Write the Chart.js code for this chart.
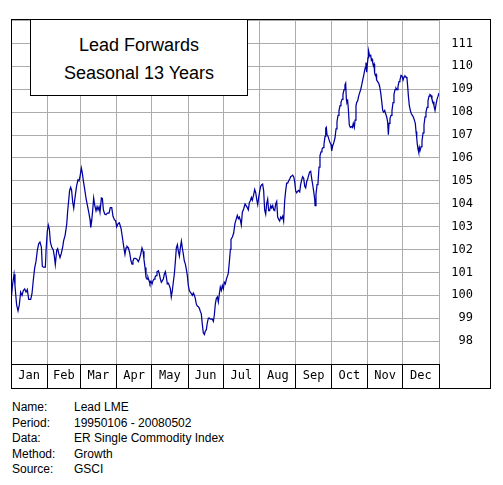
<!DOCTYPE html>
<html><head><meta charset="utf-8">
<script src="https://cdn.jsdelivr.net/npm/chart.js@4.4.1/dist/chart.umd.min.js"></script>
<style>
html,body{margin:0;padding:0;background:#fff;}
#wrap{position:relative;width:503px;height:485px;overflow:hidden;background:#fff;}
#c{position:absolute;left:0;top:0;}
#title{position:absolute;left:30px;top:19px;width:218px;height:77px;box-sizing:border-box;border:1px solid #000;background:#fff;font-family:"Liberation Sans",Arial,sans-serif;font-size:18px;color:#000;text-align:center;}
#title div{position:absolute;left:0;right:0;height:28px;line-height:28px;white-space:nowrap;}
.info{position:absolute;top:400px;font-family:"Liberation Sans",Arial,sans-serif;font-size:12px;line-height:15.5px;color:#000;white-space:nowrap;}
</style></head>
<body>
<div id="wrap">
<canvas id="c" width="503" height="392"></canvas>
<div id="title"><div style="top:11px">Lead Forwards</div><div style="top:39px">Seasonal 13 Years</div></div>
<div class="info" style="left:12px">Name:<br>Period:<br>Data:<br>Method:<br>Source:</div>
<div class="info" style="left:74px">Lead LME<br>19950106 - 20080502<br>ER Single Commodity Index<br>Growth<br>GSCI</div>
</div>
<script>
// ---- data ----
const monthNames = ['Jan','Feb','Mar','Apr','May','Jun','Jul','Aug','Sep','Oct','Nov','Dec'];
const monthDays = [31,28,31,30,31,30,31,31,30,31,30,31];
const yLabelMin = 98, yLabelMax = 111;
const days = [
0,0.6,1.4,2.6,3.4,4.8,6.0,7.1,8.2,9.4,10.5,11.7,12.8,13.9,15.1,16.8,17.9,19.1,20.2,21.3,22.5,23.6,24.7,25.9,26.7,27.6,29.3,29.9,31.0,31.8,32.7,33.6,34.7,36.1,37.0,37.8,39.0,39.8,40.7,41.8,42.9,44.1,44.9,46.1,47.5,48.3,49.2,50.0,50.9,51.7,52.6,53.5,54.3,55.2,56.0,57.1,58.0,58.9,60.0,60.8,61.7,62.8,64.0,65.1,66.2,67.4,68.0,68.8,69.7,70.5,71.4,72.5,73.4,74.2,75.1,75.9,77.1,77.9,78.8,79.9,81.0,82.2,83.6,84.7,85.9,87.0,88.1,89.3,90.1,91.3,92.4,
93.8,94.9,96.1,97.2,98.1,98.9,100.1,101.2,102.3,103.2,104.0,104.9,106.3,107.5,108.6,109.4,110.6,111.7,112.6,113.4,114.3,115.1,116.0,116.8,117.7,118.5,119.4,120.3,121.1,122.0,122.8,123.7,124.5,125.7,126.5,127.4,128.2,129.1,129.9,130.8,131.6,132.5,133.3,134.2,135.0,135.9,136.7,137.6,138.4,139.3,140.2,141.0,141.9,142.7,143.6,144.4,145.3,146.1,147.0,147.8,148.7,149.5,150.4,151.2,152.1,152.9,153.8,154.7,155.5,156.4,157.2,158.1,158.9,159.8,160.6,161.5,162.3,163.2,164.0,164.9,165.7,166.6,167.4,168.3,169.2,170.0,170.9,171.7,172.6,173.4,174.3,175.1,176.0,176.8,177.7,178.5,179.4,180.2,181.1,181.9,182.8,183.7,
185.3,186.2,187.1,187.6,188.8,189.9,191.0,192.2,193.0,193.9,194.7,195.6,196.4,197.3,198.4,199.6,200.4,201.3,202.4,203.3,204.1,205.0,205.8,207.0,207.8,208.7,209.5,210.4,211.2,212.1,212.9,213.8,214.6,215.5,216.3,217.2,218.0,218.9,219.7,220.6,221.5,222.3,223.2,224.0,224.9,225.7,226.6,227.4,228.3,229.1,230.0,230.8,231.7,232.5,233.4,234.2,235.1,236.0,236.8,237.7,238.5,239.4,240.2,241.1,241.9,242.8,243.6,244.5,245.3,246.2,247.0,247.9,248.7,249.6,250.5,251.3,252.2,253.0,253.9,254.7,255.6,256.4,257.3,258.1,259.0,259.3,260.1,261.0,261.8,262.7,263.5,264.4,265.2,266.1,266.9,267.8,268.4,268.9,269.5,270.4,271.2,272.1,272.9,273.5,274.3,275.2,276.3,
277.2,278.0,278.9,279.7,280.6,281.4,282.3,283.1,284.0,284.8,285.4,286.0,286.5,287.1,287.7,288.5,289.4,290.2,291.1,291.9,292.8,293.4,294.2,294.8,295.6,296.5,297.3,298.2,299.1,299.9,300.8,301.6,302.2,302.7,303.3,303.9,304.5,305.0,305.6,306.2,306.7,307.3,307.9,308.4,309.0,309.6,310.1,310.7,311.3,311.8,312.7,313.6,314.4,315.3,316.1,317.0,317.8,318.7,319.5,320.4,321.2,321.8,322.4,323.2,324.1,324.9,325.8,326.6,327.5,328.3,329.2,330.0,330.9,331.7,332.6,333.5,334.3,335.2,336.0,336.9,337.7,338.3,338.9,339.7,340.6,341.4,342.3,343.1,344.0,344.8,345.4,346.0,346.5,347.1,347.7,348.2,348.8,349.7,350.5,351.4,352.2,353.1,353.9,354.8,355.6,356.5,357.3,358.2,359.0,359.9,360.7,361.6,362.5,363.3,364.2,365.0
];
const values = [
100.1,100.07,100.49,100.92,100.42,99.58,99.32,99.58,100.14,100.0,100.21,100.28,100.14,100.25,99.82,99.82,100.07,100.70,101.20,101.48,101.97,102.25,102.32,102.11,101.27,101.23,101.23,101.97,102.82,103.07,102.89,102.32,102.11,101.97,101.69,101.34,101.97,102.04,101.83,101.65,101.83,102.11,102.39,102.61,103.10,103.66,104.15,104.58,104.72,104.58,104.08,103.80,104.15,104.51,104.79,105.04,105.0,105.21,105.56,105.35,105.0,104.65,104.23,103.94,103.66,103.31,102.96,103.24,103.73,104.25,103.94,103.69,103.87,103.73,103.87,103.63,104.25,104.23,103.73,103.55,103.52,103.59,103.59,103.83,103.83,103.45,103.31,103.24,102.99,103.13,103.17,
102.93,102.57,102.14,101.79,102.07,102.14,102.07,101.86,101.5,101.36,101.5,101.61,101.61,101.57,101.47,101.57,101.79,102.07,101.93,101.57,101.21,100.79,100.71,100.79,100.64,100.5,100.61,100.5,100.64,100.71,100.79,100.86,101.03,101.07,100.93,100.71,100.57,100.64,100.71,100.93,101.03,100.79,100.5,100.53,100.43,100.29,99.93,100.21,100.57,100.93,101.5,102.07,102.21,101.93,101.71,102.07,102.36,102.07,101.79,101.5,101.36,101.14,100.86,100.43,100.21,100.14,100.07,100.0,100.1,100.0,99.86,99.61,99.53,99.5,99.43,99.29,99.19,98.71,98.36,98.29,98.43,98.5,98.79,99.0,99.0,98.96,98.97,98.96,98.86,99.14,99.64,99.86,99.93,99.71,100.07,100.36,100.21,100.43,100.29,100.57,100.5,100.71,
100.96,101.45,102.01,102.44,102.55,102.72,103.14,103.35,103.49,103.35,103.42,103.28,103.07,103.63,103.77,103.99,103.99,103.85,103.73,104.06,104.13,104.27,104.15,104.41,104.62,104.48,104.2,103.96,104.27,104.55,104.76,104.83,104.86,104.55,103.73,103.54,103.99,104.2,103.7,103.7,103.92,103.82,103.92,103.73,103.7,103.99,104.1,103.42,103.31,103.25,103.42,103.35,103.45,103.24,104.13,104.55,104.9,104.9,105.0,105.08,105.18,105.21,105.25,105.18,104.97,104.55,104.48,104.55,104.58,104.52,104.83,105.04,105.18,105.11,104.76,104.69,104.97,105.08,105.25,105.39,105.42,105.11,104.83,104.55,104.2,103.92,104.41,104.83,104.9,105.6,106.1,106.27,106.38,106.45,106.59,106.94,107.3,107.34,107.01,106.94,106.8,106.66,106.59,106.31,106.52,106.66,106.87,
107.27,107.58,107.86,108.07,108.28,108.42,108.56,108.77,108.98,109.19,109.26,108.56,108.42,108.49,108.14,107.44,107.33,107.37,107.33,107.51,107.33,107.65,108.28,108.42,108.49,108.7,108.84,108.98,109.19,109.4,109.61,109.82,109.96,110.17,109.75,110.1,110.38,110.66,110.52,110.45,110.52,110.27,110.31,110.17,110.03,110.1,109.71,109.61,109.65,109.4,109.33,109.26,109.12,108.84,108.49,108.07,108.0,108.07,107.93,107.79,107.58,107.02,107.51,107.72,107.86,108.07,108.42,108.77,108.98,109.05,108.98,109.12,109.33,109.4,109.61,109.57,109.4,109.54,109.58,109.54,109.47,109.12,108.7,108.28,108.07,107.93,107.86,107.79,107.65,107.51,107.16,106.88,106.6,106.39,106.25,106.46,106.32,106.49,106.74,107.09,107.44,107.79,108.0,108.21,108.49,108.7,108.77,108.73,108.56,108.45,108.28,108.07,108.35,108.56,108.7,108.84
];

// ---- derived tick positions ----
const boundaries = [0];
monthDays.forEach(d => boundaries.push(boundaries[boundaries.length-1] + d));
const tickVals = [], tickLabels = [], tickIsBoundary = [];
for (let i = 0; i < 12; i++) {
  tickVals.push(boundaries[i]); tickLabels.push(''); tickIsBoundary.push(true);
  tickVals.push(boundaries[i] + monthDays[i]/2); tickLabels.push(monthNames[i]); tickIsBoundary.push(false);
}
tickVals.push(boundaries[12]); tickLabels.push(''); tickIsBoundary.push(true);

const GRID = '#acacac';
const FRAME_RIGHT = 490;

const framePlugin = {
  id: 'frame',
  afterDraw(chart) {
    const ctx = chart.ctx, a = chart.chartArea, xs = chart.scales.x;
    const al = p => Math.round(p - 0.5) + 0.5;
    ctx.save();
    ctx.strokeStyle = '#000';
    ctx.lineWidth = 1;
    ctx.beginPath();
    ctx.moveTo(a.left, al(a.bottom)); ctx.lineTo(a.right + 1, al(a.bottom));
    for (let i = 1; i < boundaries.length; i++) {
      const px = al(xs.getPixelForValue(boundaries[i]));
      ctx.moveTo(px, a.bottom); ctx.lineTo(px, xs.bottom);
    }
    ctx.stroke();
    ctx.strokeRect(al(a.left), al(a.top), FRAME_RIGHT - Math.floor(a.left), Math.round(xs.bottom) - Math.floor(a.top));
    ctx.restore();
  }
};

new Chart(document.getElementById('c'), {
  type: 'line',
  data: {
    datasets: [{
      data: days.map((d, i) => ({x: d, y: values[i]})),
      borderColor: '#0000a0',
      borderWidth: 1.25,
      pointRadius: 0,
      tension: 0,
      fill: false
    }]
  },
  options: {
    responsive: false,
    animation: false,
    devicePixelRatio: 1,
    events: [],
    layout: {padding: {left: 11, top: 9, right: 30, bottom: 4}},
    plugins: {legend: {display: false}, tooltip: {enabled: false}, title: {display: false}},
    scales: {
      x: {
        type: 'linear', position: 'bottom', min: 0, max: 365,
        afterBuildTicks: s => { s.ticks = tickVals.map(v => ({value: v})); },
        afterFit: s => { s.height = 24; },
        grid: {
          color: c => (c.index !== undefined && tickIsBoundary[c.index]) ? GRID : 'rgba(0,0,0,0)',
          drawTicks: false, lineWidth: 1
        },
        border: {display: true, color: '#000', width: 1},
        ticks: {
          autoSkip: false, maxRotation: 0, minRotation: 0, padding: 5, color: '#000',
          font: {family: 'DejaVu Sans Mono', size: 12},
          callback: (v, i) => tickLabels[i]
        }
      },
      y: {
        type: 'linear', position: 'right', min: 97, max: 112.06,
        afterFit: s => { s.width = 34; },
        grid: {color: GRID, drawTicks: false, lineWidth: 1},
        border: {display: false},
        ticks: {
          stepSize: 1, includeBounds: false, crossAlign: 'far', padding: 12, color: '#000',
          font: {family: 'DejaVu Sans Mono', size: 12},
          callback: v => (v >= yLabelMin && v <= yLabelMax) ? String(v) : ''
        }
      }
    }
  },
  plugins: [framePlugin]
});
</script>
</body></html>
